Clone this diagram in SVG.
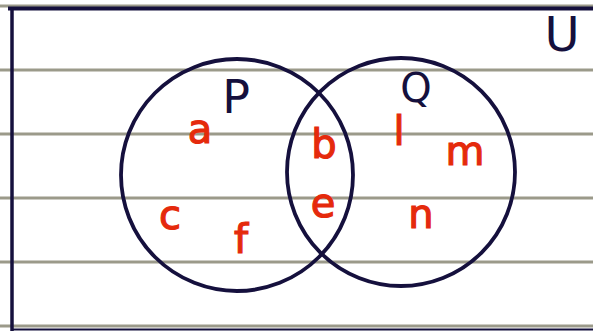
<svg xmlns="http://www.w3.org/2000/svg" width="593" height="331" viewBox="0 0 593 331">
<style>
.rule{stroke:#9b9a8a;stroke-width:3}
.ink{fill:none;stroke:#15103d;stroke-width:3.8}
.lbl{font-family:"DejaVu Sans",sans-serif;fill:#15103d;text-anchor:middle}
.el{font-family:"DejaVu Sans",sans-serif;fill:#e52a0c;stroke:#e52a0c;stroke-width:1.2;text-anchor:middle;font-size:40px}
</style>
<rect width="593" height="331" fill="#ffffff"/>
<g id="rules">
<line class="rule" x1="0" y1="6" x2="593" y2="6"/>
<line class="rule" x1="0" y1="70" x2="593" y2="70"/>
<line class="rule" x1="0" y1="134" x2="593" y2="134"/>
<line class="rule" x1="0" y1="198" x2="593" y2="198"/>
<line class="rule" x1="0" y1="262" x2="593" y2="262"/>
<line class="rule" x1="0" y1="326" x2="593" y2="326"/>
</g>
<g id="universe">
<line x1="8" y1="8.5" x2="593" y2="8.5" stroke="#15103d" stroke-width="4"/>
<line x1="12" y1="8" x2="12" y2="331" stroke="#15103d" stroke-width="3.5"/>
<line x1="12" y1="329.5" x2="593" y2="329.5" stroke="#15103d" stroke-width="2"/>
<text class="lbl" x="562" y="51" font-size="48">U</text>
</g>
<g id="P">
<circle class="ink" cx="237" cy="175" r="116"/>
<text class="lbl" x="236" y="113" font-size="46">P</text>
</g>
<g id="Q">
<circle class="ink" cx="401" cy="172" r="114"/>
<text class="lbl" x="416" y="102" font-size="40">Q</text>
</g>
<g id="elements">
<text class="el" x="200" y="143">a</text>
<text class="el" x="170" y="229">c</text>
<text class="el" x="241" y="253">f</text>
<text class="el" x="324" y="158">b</text>
<text class="el" x="323" y="217">e</text>
<text class="el" x="399" y="145">l</text>
<text class="el" x="465" y="165">m</text>
<text class="el" x="421" y="228">n</text>
</g>
</svg>
